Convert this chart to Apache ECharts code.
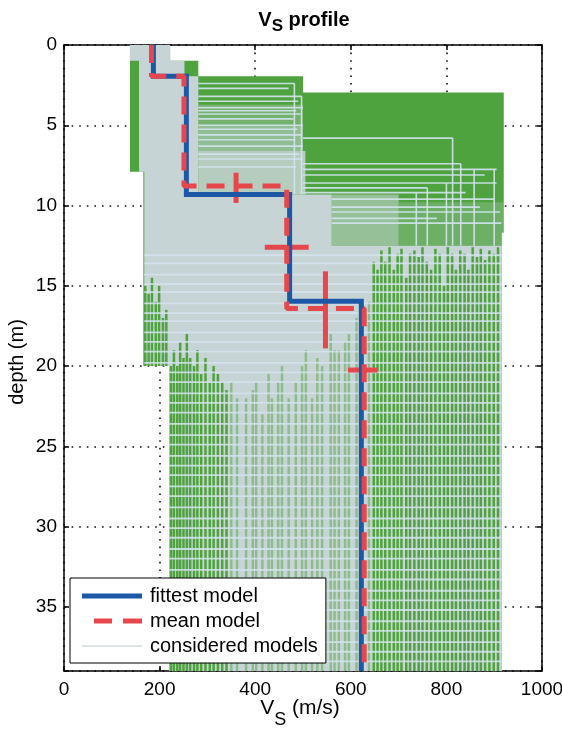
<!DOCTYPE html>
<html>
<head>
<meta charset="utf-8">
<script src="https://cdn.jsdelivr.net/npm/echarts@6/dist/echarts.min.js"></script>
<style>
  html, body { margin: 0; padding: 0; background: #fff; }
  #chart { width: 562px; height: 733px; }
</style>
</head>
<body>
<div id="chart"></div>
<script>
// Shear-wave velocity profile: Vs (m/s) against depth (m)
const xTicks = [0, 200, 400, 600, 800, 1000];
const yTicks = [0, 5, 10, 15, 20, 25, 30, 35];
const DEPTH_MAX = 39;

// best-fitting layered model
const fittestVs = [187, 256, 472, 622];
const fittestInterfaces = [1.95, 9.31, 15.96];
// mean of the considered models
const meanVs = [183, 251, 466, 628];
const meanInterfaces = [1.95, 8.78, 16.42];
// spread of the mean model: [Vs, depth, ±Vs] and [Vs, depth, ±depth]
const vsSpread = [[466, 12.6, 46], [625, 20.25, 31]];
const depthSpread = [[360, 8.9, 0.94], [547, 16.5, 2.4]];

// envelope of every considered model [Vs, depth]
const cloudOutline = [[138, 0], [222, 0], [222, 0.98], [281, 0.98], [281, 1.95], [500, 1.95], [500, 2.96],
  [920, 2.96], [920, 11.7], [916, 11.7], [916, 39], [220, 39], [220, 20], [166, 20], [166, 7.9], [138, 7.9]];
// envelope of the low-misfit models
const cloudCore = [[138, 0], [222, 0], [222, 0.98], [252, 0.98], [252, 1.95], [281, 1.95], [281, 9.31],
  [560, 9.31], [560, 12.5], [916, 12.5], [916, 39], [220, 39], [220, 20], [168, 20], [168, 7.9],
  [157, 7.9], [157, 0.98], [138, 0.98]];
// partly covered bands: [Vs from, Vs to, depth from, depth to, share of low-misfit models]
const coreBands = [
  [281, 500, 3.7, 5.0, 0.3],
  [281, 500, 5.0, 6.6, 0.55],
  [281, 505, 6.6, 9.31, 0.85],
  [560, 700, 9.31, 12.5, 0.6],
  [700, 920, 9.8, 12.5, 0.25]
];
// half-space velocities of high-misfit models: [Vs, top depth, bottom depth]
const halfSpaceHigh = [
  [170, 15, 20], [177, 15.5, 20], [184, 14.5, 20], [192, 16, 20], [199, 15, 20], [207, 17, 20], [214, 16.5, 20],
  [224, 20, 39], [230, 19, 39], [237, 20, 39], [243, 18.5, 39], [250, 19.5, 39], [257, 18, 39],
  [264, 19.5, 39], [272, 20, 39], [279, 19, 39], [287, 20.5, 39], [296, 19.5, 39], [305, 21, 39],
  [313, 20, 39], [322, 20.5, 39], [331, 21, 39], [340, 21.5, 39],
  [648, 13.5, 39], [656, 14, 39], [664, 12.8, 39], [672, 13.5, 39], [681, 12.6, 39], [690, 14, 39],
  [698, 13, 39], [706, 12.7, 39], [716, 14.5, 39], [724, 13, 39], [733, 12.8, 39], [742, 13.2, 39],
  [750, 12.6, 39], [759, 13.5, 39], [768, 14, 39], [777, 12.7, 39], [786, 13, 39], [795, 15, 39],
  [803, 12.6, 39], [812, 13, 39], [820, 14, 39], [829, 12.8, 39], [838, 13, 39], [846, 14, 39],
  [855, 12.6, 39], [864, 13.2, 39], [872, 12.7, 39], [881, 13.4, 39], [890, 12.8, 39],
  [899, 13, 39], [908, 12.6, 39]
];
const halfSpaceMid = [
  [350, 21], [362, 22], [381, 22], [395, 21.5], [402, 21], [415, 23], [428, 20.5], [435, 22],
  [448, 21], [456, 20], [470, 22], [485, 21], [498, 20], [506, 19], [519, 22], [530, 19.5],
  [540, 20], [558, 18], [566, 19], [575, 19], [588, 18.5], [596, 18], [612, 17], [638, 16]
];
// interface depths of the deeper layers
const deepInterfaces = [13.1, 13.6, 14.3, 14.9, 15.4, 16.1, 16.7, 17.2, 17.9, 18.5, 19.1, 19.8,
  20.4, 21.0, 21.7, 22.3, 22.9, 23.6, 24.3, 24.9, 25.6, 26.2, 26.8, 27.5, 28.1, 28.8, 29.5,
  30.1, 30.7, 31.4, 32.0, 32.7, 33.3, 34.0, 34.6, 35.2, 35.9, 36.5, 37.2, 37.8, 38.4];
// layer edges of shallow considered models: [Vs1, depth1, Vs2, depth2]
const shallowEdges = [
  [281, 2.4, 482, 2.4], [281, 2.7, 470, 2.7], [281, 3.2, 497, 3.2], [281, 3.5, 490, 3.5],
  [281, 3.9, 500, 3.9], [281, 4.1, 486, 4.1], [281, 4.3, 495, 4.3], [281, 4.6, 480, 4.6],
  [281, 5.0, 500, 5.0], [281, 5.25, 488, 5.25], [281, 5.6, 497, 5.6], [281, 5.9, 482, 5.9],
  [281, 6.3, 500, 6.3], [281, 6.8, 492, 6.8], [281, 7.1, 500, 7.1], [281, 7.6, 486, 7.6],
  [482, 2.4, 482, 9.3], [497, 3.2, 497, 9.3],
  [500, 5.8, 813, 5.8], [500, 7.4, 830, 7.4], [500, 7.75, 905, 7.75], [500, 8.1, 880, 8.1],
  [500, 8.6, 905, 8.6], [500, 8.9, 760, 8.9], [500, 9.2, 840, 9.2], [560, 9.6, 900, 9.6],
  [560, 10.1, 870, 10.1], [560, 10.4, 912, 10.4], [560, 10.8, 780, 10.8], [560, 11.1, 915, 11.1],
  [813, 5.8, 813, 12.5], [830, 7.4, 830, 12.5], [858, 7.75, 858, 12.5], [900, 7.75, 900, 12.5],
  [800, 8.6, 800, 12.5], [737, 9.2, 737, 12.5], [760, 8.9, 760, 12.5]
];

const FONT = '"Liberation Sans", Arial, Helvetica, sans-serif';
const GREEN = '#4fa33e';
const GREY = '#c7d4d6';
const LIGHT = '#d3e4ee';
const BLUE = '#1d58a6';
const RED = '#e6474c';

function stepProfile(vs, interfaces) {
  const pts = [];
  vs.forEach((v, i) => {
    const top = i === 0 ? 0 : interfaces[i - 1];
    const bottom = i < interfaces.length ? interfaces[i] : DEPTH_MAX;
    pts.push([v, top], [v, bottom]);
  });
  return pts;
}

function polygonSeries(name, shapes, fill) {
  return {
    name, type: 'custom', coordinateSystem: 'cartesian2d', silent: true, clip: true,
    itemStyle: { color: '#c4ccd0' },
    data: shapes.map(s => [s[0][0], s[0][1]]),
    renderItem: (params, api) => ({
      type: 'polygon',
      shape: { points: shapes[params.dataIndex].map(p => api.coord(p)) },
      style: { fill }
    })
  };
}

function bandSeries(bands) {
  return {
    type: 'custom', coordinateSystem: 'cartesian2d', silent: true, clip: true,
    data: bands,
    encode: { x: [0, 1], y: [2, 3] },
    renderItem: (params, api) => {
      const a = api.coord([api.value(0), api.value(2)]);
      const b = api.coord([api.value(1), api.value(3)]);
      return {
        type: 'rect',
        shape: { x: a[0], y: a[1], width: b[0] - a[0], height: b[1] - a[1] },
        style: { fill: GREY, opacity: api.value(4) }
      };
    }
  };
}

function segmentSeries(name, segs, stroke, width, opacity) {
  return {
    name, type: 'custom', coordinateSystem: 'cartesian2d', silent: true, clip: true,
    data: segs,
    encode: { x: [0, 2], y: [1, 3] },
    renderItem: (params, api) => {
      const a = api.coord([api.value(0), api.value(1)]);
      const b = api.coord([api.value(2), api.value(3)]);
      return {
        type: 'line',
        shape: { x1: a[0], y1: a[1], x2: b[0], y2: b[1] },
        style: { stroke, lineWidth: width, opacity }
      };
    }
  };
}

const streaksHigh = halfSpaceHigh.map(([v, d0, d1]) => [v, d0, v, d1]);
const streaksMid = halfSpaceMid.map(([v, d]) => [v, d, v, DEPTH_MAX]);
const deepLines = deepInterfaces.map(d => [d < 20 ? 168 : 220, d, 916, d]);
const spreadSegs = vsSpread.map(([v, d, e]) => [v - e, d, v + e, d])
  .concat(depthSpread.map(([v, d, e]) => [v, d - e, v, d + e]));

// text measurement for the composed labels with subscripts
const mctx = document.createElement('canvas').getContext('2d');
function tw(str, font) { mctx.font = font; return mctx.measureText(str).width; }

function subscriptLabel(cx, cy, main, sub, rest, size, subSize, weight, drop) {
  const f1 = `${weight} ${size}px ${FONT}`;
  const f2 = `${weight} ${subSize}px ${FONT}`;
  const w1 = tw(main, f1), w2 = tw(sub, f2), w3 = tw(rest, f1);
  const x0 = cx - (w1 + w2 + w3) / 2;
  const mk = (text, x, y, font) => ({
    type: 'text', x, y, silent: true,
    style: { text, font, fill: '#000', align: 'left', verticalAlign: 'middle', textAlign: 'left', textVerticalAlign: 'middle' }
  });
  return [mk(main, x0, cy, f1), mk(sub, x0 + w1, cy + drop, f2), mk(rest, x0 + w1 + w2, cy, f1)];
}

const axisCommon = {
  type: 'value',
  axisLine: { show: true, onZero: false, lineStyle: { color: '#000', width: 1.5 } },
  axisTick: { show: true, inside: true, length: 5, lineStyle: { color: '#000', width: 1.5 } }
};

const chart = echarts.init(document.getElementById('chart'), null, { renderer: 'canvas' });
chart.setOption({
  backgroundColor: '#fff',
  animation: false,
  grid: { left: 64, right: 20, top: 45, bottom: 62, containLabel: false, outerBoundsMode: 'none' },
  xAxis: [
    Object.assign({}, axisCommon, {
      position: 'bottom', min: xTicks[0], max: xTicks[xTicks.length - 1], interval: xTicks[1] - xTicks[0],
      axisLabel: { fontSize: 19, color: '#000', fontFamily: FONT, margin: 9, formatter: v => String(v) },
      splitLine: { show: true, lineStyle: { color: '#111', width: 1.6, type: [1.6, 6] } }
    }),
    Object.assign({}, axisCommon, {
      position: 'top', min: xTicks[0], max: xTicks[xTicks.length - 1], interval: xTicks[1] - xTicks[0],
      axisLabel: { show: false }, splitLine: { show: false }
    })
  ],
  yAxis: [
    Object.assign({}, axisCommon, {
      position: 'left', inverse: true, min: 0, max: DEPTH_MAX, interval: yTicks[1] - yTicks[0],
      axisLabel: { fontSize: 19, color: '#000', fontFamily: FONT, margin: 7,
        formatter: v => (yTicks.indexOf(v) >= 0 ? String(v) : '') },
      splitLine: { show: true, lineStyle: { color: '#111', width: 1.6, type: [1.6, 6] } }
    }),
    Object.assign({}, axisCommon, {
      position: 'right', inverse: true, min: 0, max: DEPTH_MAX, interval: yTicks[1] - yTicks[0],
      axisLabel: { show: false }, splitLine: { show: false }
    })
  ],
  legend: {
    orient: 'vertical', left: 70, top: 578,
    backgroundColor: '#fff', borderColor: '#000', borderWidth: 1, borderRadius: 0,
    padding: [8, 8, 7, 12], itemGap: 5, itemWidth: 60, itemHeight: 5,
    selectedMode: false,
    textStyle: { fontSize: 20, color: '#000', fontFamily: FONT, padding: [0, 0, 0, 3] },
    data: [
      { name: 'fittest model', icon: 'path://M0,0h60v5h-60z', itemStyle: { color: BLUE } },
      { name: 'mean model', icon: 'path://M0,0h0.01v0.01h-0.01z M12,0h18v5h-18z M41,0h19v5h-19z', itemStyle: { color: RED } },
      { name: 'considered models', icon: 'path://M0,0h0.01v0.01h-0.01z M0,2h60v1h-60z M59.99,4.99h0.01v0.01h-0.01z', itemStyle: { color: '#c2cbd0' } }
    ]
  },
  graphic: [
    ...subscriptLabel(304, 20, 'V', 'S', ' profile', 20, 17, 'bold', 6),
    ...subscriptLabel(300, 708, 'V', 'S', ' (m/s)', 21, 18, 'normal', 12),
    {
      type: 'text', x: 17, y: 362, rotation: Math.PI / 2, silent: true,
      style: { text: 'depth (m)', font: `normal 20px ${FONT}`, fill: '#000',
        align: 'center', verticalAlign: 'middle', textAlign: 'center', textVerticalAlign: 'middle' }
    }
  ],
  series: [
    polygonSeries('considered models', [cloudOutline], GREEN),
    polygonSeries('low misfit', [cloudCore], GREY),
    bandSeries(coreBands),
    segmentSeries('edges', shallowEdges, LIGHT, 1.6, 0.9),
    segmentSeries('half-space', streaksHigh, GREEN, 2.5, 1),
    segmentSeries('half-space mid', streaksMid, GREEN, 2.4, 0.5),
    segmentSeries('deep interfaces', deepLines, LIGHT, 1.8, 0.85),
    {
      name: 'fittest model', type: 'line', data: stepProfile(fittestVs, fittestInterfaces),
      showSymbol: false, symbol: 'none', silent: true,
      lineStyle: { color: BLUE, width: 5, join: 'miter' }, itemStyle: { color: BLUE }
    },
    {
      name: 'mean model', type: 'line', data: stepProfile(meanVs, meanInterfaces),
      showSymbol: false, symbol: 'none', silent: true,
      lineStyle: { color: RED, width: 5, type: [18, 10] }, itemStyle: { color: RED }
    },
    segmentSeries('spread', spreadSegs, RED, 5, 1)
  ]
});
</script>
</body>
</html>
